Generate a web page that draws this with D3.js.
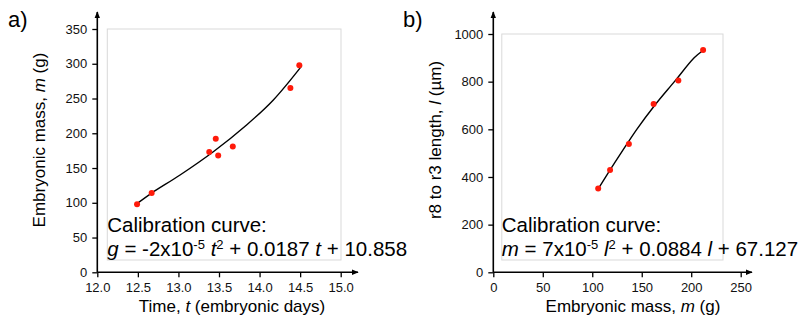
<!DOCTYPE html>
<html>
<head>
<meta charset="utf-8">
<script src="https://cdn.jsdelivr.net/npm/d3@7"></script>
<style>
  body { margin: 0; background: #fff; }
  svg { font-family: "Liberation Sans", Arial, sans-serif; }
  .tick text { font-size: 13px; fill: #111; }
  .tick line { stroke: #000; stroke-width: 1.3; }
</style>
</head>
<body>
<svg id="chart" width="800" height="325"></svg>
<script>
// panel a: embryonic mass vs time
var daysA = [12.49, 12.67, 13.38, 13.46, 13.49, 13.67, 14.38, 14.49];
var massA = [98, 114, 173, 192, 168, 181, 265, 298];
var curveDaysA = [12.48, 12.67, 13.02, 13.43, 13.84, 14.17, 14.52];
var curveMassA = [98, 114, 140, 173.5, 212, 248, 297];
var xTicksA = [12.0, 12.5, 13.0, 13.5, 14.0, 14.5, 15.0];
var yTicksA = [0, 50, 100, 150, 200, 250, 300, 350];

// panel b: r8 to r3 length vs embryonic mass
var massB = [106, 118, 137, 162, 187, 212];
var lengthB = [352, 429, 538, 706, 805, 933];
var curveMassB = [106, 119, 129, 145, 163, 183, 203, 212.5];
var curveLengthB = [350, 436, 500, 600, 700, 800, 900, 933];
var xTicksB = [0, 50, 100, 150, 200, 250];
var yTicksB = [0, 200, 400, 600, 800, 1000];

var svg = d3.select("#chart");

var defs = svg.append("defs");
defs.append("marker")
  .attr("id", "arrow")
  .attr("viewBox", "0 0 10 10")
  .attr("refX", 9).attr("refY", 5)
  .attr("markerWidth", 7).attr("markerHeight", 7)
  .attr("markerUnits", "userSpaceOnUse")
  .attr("orient", "auto")
  .append("path")
  .attr("d", "M0,1 L10,5 L0,9 Z")
  .attr("fill", "#000");

function panel(opts) {
  var x = d3.scaleLinear().domain(opts.xDomain).range(opts.xRange);
  var y = d3.scaleLinear().domain(opts.yDomain).range([272.3, opts.yTop]);
  var g = svg.append("g");

  // light plot-area box
  g.append("rect")
    .attr("x", x(opts.xDomain[0]) + opts.boxInset)
    .attr("y", y(opts.yDomain[1]))
    .attr("width", opts.boxRight - x(opts.xDomain[0]) - opts.boxInset)
    .attr("height", 260 - y(opts.yDomain[1]))
    .attr("fill", "none")
    .attr("stroke", "#d9d9d9")
    .attr("stroke-width", 1);

  g.append("g")
    .attr("transform", "translate(0," + y(0) + ")")
    .call(d3.axisBottom(x).tickValues(opts.xTicks).tickSize(5).tickPadding(5)
      .tickFormat(opts.xFormat))
    .call(function (a) { a.select(".domain").remove(); });

  g.append("g")
    .attr("transform", "translate(" + x(opts.xDomain[0]) + ",0)")
    .call(d3.axisLeft(y).tickValues(opts.yTicks).tickSize(5).tickPadding(5)
      .tickFormat(d3.format("d")))
    .call(function (a) { a.select(".domain").remove(); });

  // axis lines with arrows
  g.append("line")
    .attr("x1", x(opts.xDomain[0])).attr("x2", opts.xArrow)
    .attr("y1", y(0)).attr("y2", y(0))
    .attr("stroke", "#000").attr("stroke-width", 1.6)
    .attr("marker-end", "url(#arrow)");
  g.append("line")
    .attr("x1", x(opts.xDomain[0])).attr("x2", x(opts.xDomain[0]))
    .attr("y1", y(0)).attr("y2", 12)
    .attr("stroke", "#000").attr("stroke-width", 1.6)
    .attr("marker-end", "url(#arrow)");

  // fitted curve
  var line = d3.line()
    .x(function (d) { return x(d[0]); })
    .y(function (d) { return y(d[1]); })
    .curve(d3.curveCatmullRom);
  g.append("path")
    .datum(d3.zip(opts.curveX, opts.curveY))
    .attr("d", line)
    .attr("fill", "none")
    .attr("stroke", "#000")
    .attr("stroke-width", 1.4);

  g.selectAll("circle")
    .data(d3.zip(opts.pointsX, opts.pointsY))
    .enter()
    .append("circle")
    .attr("cx", function (d) { return x(d[0]); })
    .attr("cy", function (d) { return y(d[1]); })
    .attr("r", 3)
    .attr("fill", "#ff1a0a");

  // panel label
  g.append("text")
    .attr("x", opts.labelX).attr("y", 27)
    .style("font-size", "22px")
    .text(opts.label);

  // x title
  var xt = g.append("text")
    .attr("x", opts.xTitleX).attr("y", 312)
    .attr("text-anchor", "middle")
    .style("font-size", "17px");
  opts.xTitle.forEach(function (p) {
    xt.append("tspan").style("font-style", p[1] ? "italic" : "normal").text(p[0]);
  });

  // y title
  var yt = g.append("text")
    .attr("transform", "translate(" + opts.yTitleX + ",140) rotate(-90)")
    .attr("text-anchor", "middle")
    .style("font-size", "17px");
  opts.yTitle.forEach(function (p) {
    yt.append("tspan").style("font-style", p[1] ? "italic" : "normal").text(p[0]);
  });

  // calibration text
  var tx = x(opts.xDomain[0]) + opts.boxInset;
  g.append("text")
    .attr("x", tx).attr("y", 232)
    .style("font-size", "20.5px")
    .text("Calibration curve:");
  var eq = g.append("text")
    .attr("x", tx).attr("y", 256)
    .style("font-size", "20.5px");
  opts.equation.forEach(function (p) {
    var s = eq.append("tspan").text(p[0]);
    if (p[1] === "i") s.style("font-style", "italic");
    if (p[1] === "sup") s.style("font-size", "13px").attr("baseline-shift", "7px");
  });
}

panel({
  label: "a)", labelX: 8,
  xDomain: [12, 15], xRange: [97.3, 340.7], xArrow: 358,
  yDomain: [0, 350], yTop: 29,
  xTicks: xTicksA, yTicks: yTicksA, xFormat: d3.format(".1f"),
  boxInset: 10, boxRight: 341,
  pointsX: daysA, pointsY: massA,
  curveX: curveDaysA, curveY: curveMassA,
  xTitleX: 232, xTitle: [["Time, ", false], ["t", true], [" (embryonic days)", false]],
  yTitleX: 45, yTitle: [["Embryonic mass, ", false], ["m", true], [" (g)", false]],
  equation: [["g", "i"], [" = -2x10", ""], ["-5", "sup"], [" ", ""], ["t", "i"], ["2", "sup"],
             [" + 0.0187 ", ""], ["t", "i"], [" + 10.858", ""]]
});

panel({
  label: "b)", labelX: 403,
  xDomain: [0, 250], xRange: [493.3, 740.7], xArrow: 752,
  yDomain: [0, 1000], yTop: 34,
  xTicks: xTicksB, yTicks: yTicksB, xFormat: d3.format("d"),
  boxInset: 8.5, boxRight: 723,
  pointsX: massB, pointsY: lengthB,
  curveX: curveMassB, curveY: curveLengthB,
  xTitleX: 633, xTitle: [["Embryonic mass, ", false], ["m", true], [" (g)", false]],
  yTitleX: 441, yTitle: [["r8 to r3 length, ", false], ["l", true], [" (µm)", false]],
  equation: [["m", "i"], [" = 7x10", ""], ["-5", "sup"], [" ", ""], ["l", "i"], ["2", "sup"],
             [" + 0.0884 ", ""], ["l", "i"], [" + 67.127", ""]]
});
</script>
</body>
</html>
